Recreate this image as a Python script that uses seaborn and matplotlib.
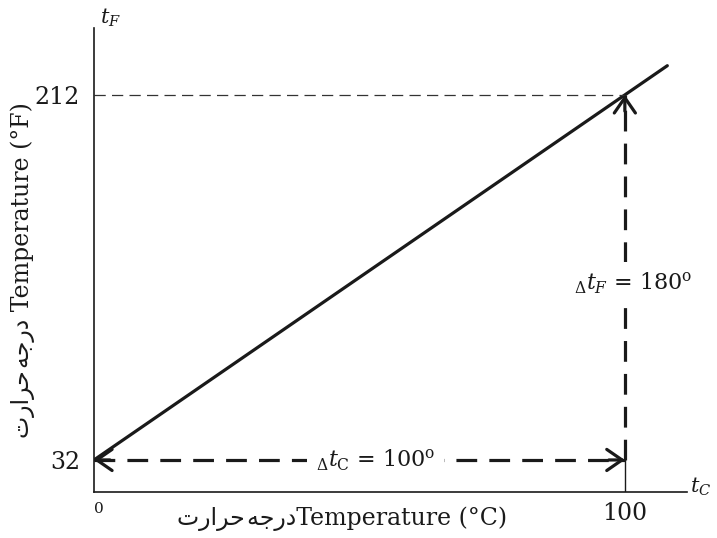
import matplotlib
matplotlib.use("Agg")
import matplotlib.pyplot as plt
import seaborn as sns

# values
tc = [0, 108]
tf = [32, 226.4]
c_ticks = [0, 100]
c_tick_labels = ["0", "100"]
f_ticks = [32, 212]
f_tick_labels = ["32", "212"]
delta_c = 100
delta_f = 180

# Urdu "درجۂ حرارت" written with presentation forms in visual order
urdu = "\uFE95\uFEAD\uFE8D\uFEAE\uFEA3\u200a\uFEEA\uFE9F\uFEAD\uFEA9"

sns.set_theme(style="white")
plt.rcParams["font.family"] = ["DejaVu Serif", "DejaVu Sans"]
plt.rcParams["mathtext.fontset"] = "dejavuserif"

fig = plt.figure(figsize=(7.17, 5.38), dpi=100)
ax = fig.add_axes([0.1311, 0.0855, 0.827, 0.8625])

ink = "#1a1a1a"
line_kw = dict(ax=ax, estimator=None, sort=False, legend=False)

# main conversion line
sns.lineplot(x=tc, y=tf, color=ink, lw=2.3, **line_kw)

# thin dashed guide at 212
sns.lineplot(x=[c_ticks[0], c_ticks[1]], y=[f_ticks[1], f_ticks[1]],
             color="#333333", lw=0.9, linestyle=(0, (9, 5)), **line_kw)
# thick dashed horizontal (delta tC)
sns.lineplot(x=[c_ticks[0], c_ticks[1]], y=[f_ticks[0], f_ticks[0]],
             color=ink, lw=2.3, linestyle=(0, (6.5, 3.8)), **line_kw)
# thick dashed vertical (delta tF)
ax.plot([c_ticks[1], c_ticks[1]], [f_ticks[0], f_ticks[1]],
        color=ink, lw=2.3, linestyle=(0, (6.5, 3.8)))
# thin solid stub under the vertical arrow
ax.plot([c_ticks[1], c_ticks[1]], [16.2, f_ticks[0]], color=ink, lw=1.0)

head = "->,head_length=0.55,head_width=0.38"
for xy, xyt in [((c_ticks[1], f_ticks[1]), (c_ticks[1], f_ticks[1] - 8)),
                ((c_ticks[0], f_ticks[0]), (c_ticks[0] + 3, f_ticks[0])),
                ((c_ticks[1], f_ticks[0]), (c_ticks[1] - 3, f_ticks[0]))]:
    ax.annotate("", xy=xy, xytext=xyt,
                arrowprops=dict(arrowstyle=head, lw=2.3, color=ink,
                                mutation_scale=20, shrinkA=0, shrinkB=0))

ax.text(53, f_ticks[0], r"$_{\Delta}\mathit{t}_{\mathrm{C}}$ = %d$^{\mathrm{o}}$" % delta_c,
        fontsize=16, ha="center", va="center", color=ink,
        bbox=dict(facecolor="white", edgecolor="none", pad=6))
ax.text(101.5, 119, r"$_{\Delta}\mathit{t}_{F}$ = %d$^{\mathrm{o}}$" % delta_f,
        fontsize=16, ha="center", va="center", color=ink,
        bbox=dict(facecolor="white", edgecolor="none", pad=6))

ax.set_xlim(0, 111.7)
ax.set_ylim(16.2, 245)

for side in ["top", "right"]:
    ax.spines[side].set_visible(False)
for side in ["left", "bottom"]:
    ax.spines[side].set_color(ink)
    ax.spines[side].set_linewidth(1.2)

ax.set_yticks(f_ticks)
ax.set_yticklabels(f_tick_labels, fontsize=17)
ax.set_xticks(c_ticks)
ax.set_xticklabels(c_tick_labels, fontsize=17)
ax.tick_params(axis="both", length=0, colors=ink)
ax.tick_params(axis="y", pad=10)
ax.tick_params(axis="x", pad=7)
xl = ax.get_xticklabels()
xl[0].set_fontsize(11)
xl[0].set_horizontalalignment("left")

ax.set_xlabel(urdu + "Temperature (°C)", fontsize=17, color=ink)
ax.xaxis.set_label_coords(0.418, -0.032)
ax.set_ylabel(urdu + " Temperature (°F)", fontsize=17, color=ink)
ax.yaxis.set_label_coords(-0.1, 0.478)

ax.text(1.2, 250, r"$\mathit{t}_{F}$", fontsize=15, ha="left", va="center",
        color=ink, clip_on=False)
ax.text(112.3, 18.5, r"$\mathit{t}_{C}$", fontsize=15, ha="left", va="center",
        color=ink, clip_on=False)

fig.savefig("out.png", dpi=100)
